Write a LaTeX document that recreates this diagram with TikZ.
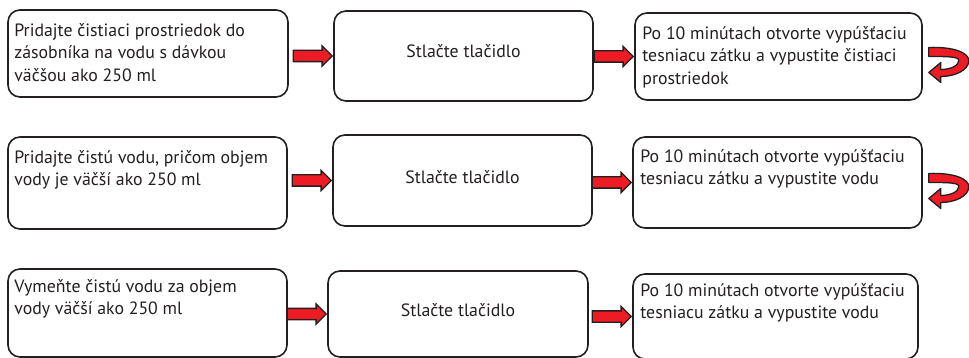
\documentclass[tikz,border=0pt]{standalone}
\usepackage{fontspec}
\setmainfont{PT Sans}
\usetikzlibrary{calc,shapes.arrows}
\definecolor{cRed}{HTML}{ED1C24}
\definecolor{cInk}{HTML}{231F20}
\tikzset{
  box/.style={draw=cInk,line width=1.6pt,rounded corners=12pt,inner sep=0pt},
  txt/.style={anchor=north west,inner sep=0pt,align=left,text=cInk,
              font=\fontsize{17.8}{22.5}\selectfont},
  ctxt/.style={anchor=base,inner sep=0pt,text=cInk,
              font=\fontsize{17.8}{22.5}\selectfont},
  fatarrow/.style={single arrow,draw=cInk,fill=cRed,line width=1.3pt,
              inner xsep=0pt,inner ysep=5pt,single arrow head extend=4.5pt,
              minimum width=19pt,minimum height=39pt,anchor=tip},
  turnarrow/.style={draw=cInk,fill=cRed,line width=1.3pt,line join=round},
}
% curved "repeat" arrow next to a box
\newcommand{\turnat}[1]{%
  \draw[turnarrow,shift={(#1.east)}] (6,-9) .. controls (30,-10) and (47,-4) .. (46,5)
    .. controls (45,14) and (32,20) .. (18,20) -- (18,26) -- (6,16) -- (18,6) -- (18,13)
    .. controls (28,13) and (36,9) .. (36,4) .. controls (36,0) and (25,0) .. (6,0) -- cycle;}

\begin{document}
\begin{tikzpicture}[x=1pt,y=-1pt]
  \useasboundingbox (0,0) rectangle (969,358);
  % row 1
  \node[box,minimum width=280,minimum height=87](a1) at (148,53.5){};
  \node[box,minimum width=259,minimum height=90](b1) at (463.5,56){};
  \node[box,minimum width=287,minimum height=87](c1) at (778.5,56.5){};
  \node[txt](ta1) at ($(a1.north west)+(7,14)$){Pridajte čistiaci prostriedok do\\zásobníka na vodu s dávkou\\väčšou ako 250 ml};
  \node[ctxt](tb1) at ($(b1.center)+(0,2)$){Stlačte tlačidlo};
  \node[txt](tc1) at ($(c1.north west)+(8,14)$){Po 10 minútach otvorte vypúšťaciu\\tesniacu zátku a vypustite čistiaci\\prostriedok};
  \node[fatarrow](r11) at (b1.west){};
  \node[fatarrow](r12) at (c1.west){};
  \turnat{c1}
  % row 2
  \node[box,minimum width=279,minimum height=92](a2) at (147.5,183){};
  \node[box,minimum width=259,minimum height=91](b2) at (462.5,180.5){};
  \node[box,minimum width=289,minimum height=91](c2) at (777.5,182.5){};
  \node[txt](ta2) at ($(a2.north west)+(7,14)$){Pridajte čistú vodu, pričom objem\\vody je väčší ako 250 ml};
  \node[ctxt](tb2) at ($(b2.center)+(0,3)$){Stlačte tlačidlo};
  \node[txt](tc2) at ($(c2.north west)+(8,13)$){Po 10 minútach otvorte vypúšťaciu\\tesniacu zátku a vypustite vodu};
  \node[fatarrow](r21) at (b2.west){};
  \node[fatarrow](r22) at (c2.west){};
  \turnat{c2}
  % row 3
  \node[box,minimum width=279,minimum height=88](a3) at (147.5,313){};
  \node[box,minimum width=260,minimum height=86](b3) at (458,314){};
  \node[box,minimum width=285,minimum height=85](c3) at (775.5,316.5){};
  \node[txt](ta3) at ($(a3.north west)+(7,11)$){Vymeňte čistú vodu za objem\\vody väčší ako 250 ml};
  \node[ctxt](tb3) at ($(b3.center)+(0,2)$){Stlačte tlačidlo};
  \node[txt](tc3) at ($(c3.north west)+(8,10)$){Po 10 minútach otvorte vypúšťaciu\\tesniacu zátku a vypustite vodu};
  \node[fatarrow](r31) at (b3.west){};
  \node[fatarrow](r32) at (c3.west){};
\end{tikzpicture}
\end{document}
